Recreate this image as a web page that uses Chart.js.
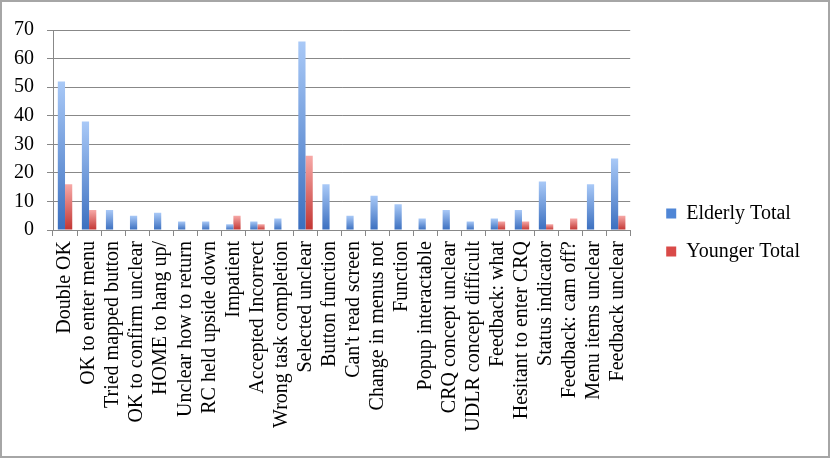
<!DOCTYPE html>
<html>
<head>
<meta charset="utf-8">
<script src="https://cdn.jsdelivr.net/npm/chart.js@4"></script>
<style>
  html, body { margin: 0; padding: 0; background: #fff; }
  #wrap { position: relative; width: 832px; height: 460px; }
  #frame { position: absolute; left: 0px; top: 0px; width: 826px; height: 454px; border: 2px solid #a6a6a6; pointer-events: none; }
</style>
</head>
<body>
<div id="wrap">
  <canvas id="chart" width="832" height="460"></canvas>
  <div id="frame"></div>
</div>
<script>
// categories and series
const categories = [
  'Double OK', 'OK to enter menu', 'Tried mapped button', 'OK to confirm unclear',
  'HOME to hang up/', 'Unclear how to return', 'RC held upside down', 'Impatient',
  'Accepted Incorrect', 'Wrong task completion', 'Selected unclear', 'Button function',
  "Can't read screen", 'Change in menus not', 'Function', 'Popup interactable',
  'CRQ concept unclear', 'UDLR concept difficult', 'Feedback: what', 'Hesitant to enter CRQ',
  'Status indicator', 'Feedback: cam off?', 'Menu items unclear', 'Feedback unclear'
];
const elderlyTotal = [52, 38, 7, 5, 6, 3, 3, 2, 3, 4, 66, 16, 5, 12, 9, 4, 7, 3, 4, 7, 17, 0, 16, 25];
const youngerTotal = [16, 7, 0, 0, 0, 0, 0, 5, 2, 0, 26, 0, 0, 0, 0, 0, 0, 0, 3, 3, 2, 4, 0, 5];
const yTicks = [0, 10, 20, 30, 40, 50, 60, 70];

const serif = "'Liberation Serif', 'Times New Roman', serif";

// vertical gradient per bar, light at the top, darker at the base
function barFill(light, dark) {
  return (ctx) => {
    const chart = ctx.chart;
    const y = chart.scales && chart.scales.y;
    if (!y || ctx.type !== 'data' || !chart.chartArea) return dark;
    const top = y.getPixelForValue(ctx.parsed.y);
    const base = y.getPixelForValue(0);
    if (!(base > top + 0.5)) return dark;
    const g = chart.ctx.createLinearGradient(0, top, 0, base);
    g.addColorStop(0, light);
    g.addColorStop(1, dark);
    return g;
  };
}

// push the legend a bit away from the plot, like the original
const legendGap = {
  id: 'legendGap',
  afterLayout(chart) {
    const lg = chart.legend;
    if (lg) {
      lg.left += 18; lg.right += 18;
      lg.top -= 3; lg.bottom -= 3;
    }
  }
};

new Chart(document.getElementById('chart'), {
  type: 'bar',
  data: {
    labels: categories,
    datasets: [
      { label: 'Elderly Total', data: elderlyTotal, backgroundColor: barFill('#a9c9f7', '#3b6fbf'), legendColor: '#4f86d6' },
      { label: 'Younger Total', data: youngerTotal, backgroundColor: barFill('#f7a9a7', '#c23532'), legendColor: '#d94a48' }
    ]
  },
  plugins: [legendGap],
  options: {
    responsive: false,
    animation: false,
    layout: { padding: { top: 30, left: 1, right: 40, bottom: 19 } },
    datasets: { bar: { categoryPercentage: 0.6, barPercentage: 1.0 } },
    scales: {
      x: {
        afterFit: (axis) => { axis.height = 211; },
        grid: { display: true, drawOnChartArea: false, drawTicks: true, tickLength: 6, offset: true, color: '#888' },
        border: { color: '#888' },
        ticks: { minRotation: 90, maxRotation: 90, autoSkip: false, color: '#000', padding: 5, font: { family: serif, size: 20 } }
      },
      y: {
        min: 0, max: 70,
        afterBuildTicks: (axis) => { axis.ticks = yTicks.map(v => ({ value: v })); },
        grid: { color: '#888', tickLength: 6 },
        border: { color: '#888' },
        ticks: { color: '#000', padding: 13, font: { family: serif, size: 20 } }
      }
    },
    plugins: {
      tooltip: { enabled: false },
      legend: {
        position: 'right',
        labels: {
          boxWidth: 10, boxHeight: 10, padding: 18, color: '#000',
          font: { family: serif, size: 20 },
          generateLabels: (chart) => chart.data.datasets.map((ds, i) => ({
            text: ds.label, fillStyle: ds.legendColor, strokeStyle: ds.legendColor,
            lineWidth: 0, datasetIndex: i, hidden: false
          }))
        }
      }
    }
  }
});
</script>
</body>
</html>
